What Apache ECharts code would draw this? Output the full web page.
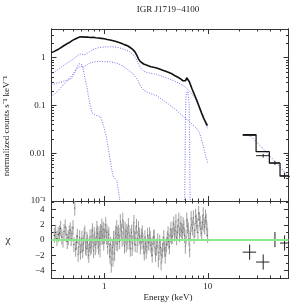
<!DOCTYPE html>
<html><head><meta charset="utf-8">
<script src="https://cdn.jsdelivr.net/npm/echarts@6/dist/echarts.min.js"></script>
<style>html,body{margin:0;padding:0;background:#fff}#c{width:291px;height:305px}</style>
</head><body><div id="c"></div>
<script>
// ---------- text ----------
const chartTitle = 'IGR J1719\u22124100';
const yTitle = 'normalized counts s\u207B\u00B9 keV\u207B\u00B9';
const xTitle = 'Energy (keV)';
const chiTitle = '\u03C7';

// ---------- ticks ----------
const xMajor = [1, 10];
const xMajorLabels = ['1', '10'];
const xMinor = [0.4,0.5,0.6,0.7,0.8,0.9,2,3,4,5,6,7,8,9,20,30,40,50];
const yMajor = [1, 0.1, 0.01, 0.001];
const yMajorLabels = ['1', '0.1', '0.01', '10\u207B\u00B3'];
const yMinor = [0.002,0.003,0.004,0.005,0.006,0.007,0.008,0.009,0.02,0.03,0.04,0.05,0.06,0.07,0.08,0.09,0.2,0.3,0.4,0.5,0.6,0.7,0.8,0.9,2,3,4];
const chiMajor = [-4, -2, 0, 2, 4];
const chiMajorLabels = ['\u22124', '\u22122', '0', '2', '4'];
const chiMinor = [-5, -3, -1, 1, 3, 5];

// ---------- soft X-ray data spectrum ----------
const xmmE = [0.31,0.33,0.35,0.37,0.40,0.43,0.46,0.49,0.52,0.55,0.58,0.61,0.65,0.69,0.73,0.78,0.83,0.88,0.94,1.00,1.07,1.14,1.22,1.30,1.39,1.48,1.58,1.68,1.78,1.88,1.98,2.06,2.14,2.22,2.30,2.40,2.52,2.66,2.82,3.00,3.20,3.42,3.66,3.92,4.20,4.50,4.82,5.15,5.45,5.75,5.95,6.10,6.25,6.40,6.52,6.65,6.80,7.00,7.25,7.50,7.80,8.10,8.45,8.80,9.20,9.60,9.90];
const xmmF = [1.28,1.36,1.45,1.55,1.74,1.92,2.08,2.28,2.45,2.60,2.72,2.76,2.70,2.72,2.66,2.68,2.62,2.60,2.55,2.50,2.42,2.36,2.28,2.18,2.08,1.98,1.86,1.78,1.64,1.50,1.33,1.14,0.95,0.84,0.78,0.74,0.71,0.68,0.65,0.63,0.61,0.58,0.55,0.52,0.49,0.46,0.42,0.39,0.36,0.33,0.31,0.33,0.38,0.41,0.37,0.31,0.27,0.23,0.19,0.16,0.13,0.105,0.082,0.065,0.052,0.043,0.038];

// ---------- model components ----------
const compAE = [0.31,0.34,0.37,0.41,0.45,0.49,0.53,0.57,0.60,0.63,0.66,0.70,0.75,0.81,0.88,0.96,1.05,1.15,1.26,1.38,1.50,1.62,1.75,1.88,2.00,2.12,2.25,2.40,2.60,2.85,3.20,3.60,4.10,4.70,5.30,5.90,6.50,7.10,7.70,8.30,8.90,9.50,10.0];
const compAF = [0.44,0.52,0.60,0.70,0.80,0.90,1.03,1.17,1.20,1.15,1.17,1.28,1.42,1.54,1.62,1.67,1.69,1.70,1.68,1.62,1.55,1.45,1.35,1.18,1.00,0.78,0.60,0.52,0.49,0.47,0.45,0.41,0.37,0.33,0.29,0.255,0.21,0.17,0.125,0.09,0.062,0.042,0.032];
const compBE = [0.31,0.34,0.37,0.41,0.45,0.49,0.53,0.57,0.60,0.63,0.66,0.70,0.75,0.81,0.88,0.96,1.05,1.15,1.26,1.38,1.50,1.62,1.75,1.88,2.00,2.12,2.25,2.40,2.60,2.85,3.20,3.60,4.10,4.70,5.30,5.90,6.50,7.10,7.70,8.30,8.90,9.50,10.0];
const compBF = [0.154,0.18,0.22,0.28,0.35,0.43,0.55,0.64,0.66,0.64,0.68,0.74,0.79,0.82,0.83,0.83,0.83,0.82,0.79,0.74,0.68,0.60,0.53,0.47,0.40,0.33,0.25,0.21,0.19,0.175,0.16,0.135,0.11,0.088,0.07,0.057,0.048,0.040,0.034,0.027,0.016,0.009,0.0062];
const compCE = [0.31,0.34,0.38,0.42,0.46,0.49,0.51,0.53,0.55,0.57,0.59,0.61,0.63,0.65,0.68,0.71,0.74,0.77,0.80,0.84,0.88,0.92,0.96,1.00,1.05,1.10,1.15,1.20,1.24,1.28,1.32,1.36,1.40,1.45];
const compCF = [0.27,0.29,0.31,0.33,0.35,0.38,0.45,0.55,0.65,0.75,0.80,0.72,0.55,0.38,0.25,0.14,0.09,0.068,0.063,0.062,0.061,0.058,0.045,0.033,0.022,0.012,0.0065,0.0038,0.0031,0.0029,0.0027,0.0018,0.0012,0.0007];
const feLineE = [5.95,6.02,6.07,6.12,6.20,6.40,6.60,6.66,6.71,6.78];
const feLineF = [0.0004,0.004,0.04,0.12,0.18,0.2,0.11,0.02,0.003,0.0004];

// ---------- hard X-ray data ----------
const hxLo = [21.7, 29.2, 39.2, 49.7];
const hxHi = [29.2, 39.2, 49.7, 62.0];
const hxE = [25.3, 34.2, 44.4, 55.0];
const hxF = [0.0236, 0.0089, 0.0063, 0.0034];
const hxErr = [0.0008, 0.0008, 0.0006, 0.0005];
const hxModelStep = [0.0245, 0.0108, 0.0062, 0.0033];
const hxCompE = [25.0, 35.0, 45.0, 60.0];
const hxCompF = [0.0245, 0.0118, 0.0065, 0.0033];
const hxChi = [-1.6, -2.9, 0.05, -0.4];

// ---------- residuals (chi) ----------
const resE = [0.33,0.34,0.35,0.36,0.37,0.38,0.39,0.40,0.41,0.42,0.43,0.44,0.45,0.46,0.47,0.48,0.49,0.50,0.51,0.52,0.53,0.54,0.55,0.56,0.57,0.58,0.59,0.60,0.61,0.62,0.63,0.64,0.65,0.66,0.67,0.68,0.69,0.70,0.71,0.72,0.73,0.74,0.75,0.76,0.77,0.78,0.79,0.80,0.81,0.82,0.83,0.84,0.85,0.86,0.87,0.88,0.89,0.90,0.91,0.92,0.93,0.94,0.95,0.96,0.97,0.98,0.99,1.005,1.02,1.035,1.05,1.065,1.08,1.095,1.11,1.125,1.14,1.155,1.17,1.185,1.20,1.215,1.23,1.245,1.26,1.275,1.29,1.305,1.32,1.335,1.35,1.37,1.39,1.41,1.43,1.45,1.47,1.49,1.51,1.53,1.55,1.57,1.59,1.61,1.63,1.65,1.67,1.69,1.71,1.735,1.76,1.785,1.81,1.835,1.86,1.885,1.91,1.935,1.96,1.99,2.02,2.05,2.08,2.11,2.14,2.17,2.20,2.23,2.26,2.295,2.33,2.365,2.40,2.435,2.47,2.505,2.54,2.58,2.62,2.66,2.70,2.74,2.78,2.82,2.86,2.905,2.95,2.995,3.04,3.085,3.13,3.18,3.23,3.28,3.33,3.38,3.43,3.485,3.54,3.595,3.65,3.705,3.76,3.82,3.88,3.94,4.00,4.065,4.13,4.195,4.26,4.33,4.40,4.47,4.54,4.615,4.69,4.765,4.84,4.92,5.00,5.08,5.16,5.245,5.33,5.415,5.50,5.59,5.68,5.775,5.87,5.965,6.06,6.16,6.26,6.365,6.47,6.575,6.68,6.79,6.90,7.015,7.13,7.25,7.37,7.495,7.62,7.75,7.88,8.015,8.15,8.29,8.43,8.575,8.72,8.87,9.02,9.175,9.33,9.49,9.65,9.80,9.95];
const resChi = [0.6,1.0,0.2,0.7,0.9,1.5,0.4,0.0,1.1,1.7,0.7,-0.2,0.3,0.9,1.3,0.2,0.8,1.6,-0.6,4.2,-1.2,-0.3,0.5,-1.9,-0.9,0.3,-1.6,-0.7,0.2,-1.4,-0.5,0.6,0.9,-0.9,-1.1,0.1,-0.3,-1.5,-2.0,-0.6,0.4,-1.0,-0.8,0.5,1.2,-0.3,-1.4,0.7,0.1,-1.0,-0.6,0.4,1.5,0.9,-0.2,-0.9,0.8,0.2,-1.3,1.1,0.3,0.9,1.8,0.4,0.6,1.4,-0.4,0.5,1.2,2.0,0.4,1.0,-0.9,0.3,0.7,-1.4,-2.2,-0.6,-3.3,-1.7,-1.0,-2.5,0.2,-0.8,-1.8,0.3,0.9,-0.4,1.6,0.7,-0.5,1.0,0.6,-0.2,2.4,1.3,1.1,0.1,2.6,1.6,0.3,-0.8,1.4,0.5,-0.6,1.1,0.8,-0.3,1.9,0.9,-0.2,-1.2,0.5,1.0,-1.1,-0.4,1.2,2.3,0.2,-0.6,0.9,1.8,-0.7,0.2,1.5,0.7,0.4,-0.9,-0.3,0.5,0.9,-0.2,-0.9,-1.7,0.3,-0.5,-1.5,-0.9,0.6,-0.3,-0.4,0.7,0.2,-0.7,-1.2,-2.0,-0.5,0.3,0.4,-0.9,-1.9,-1.1,-0.8,-0.1,-2.6,-1.6,-0.3,-1.0,-3.0,-2.0,-1.4,-0.5,0.3,-1.2,-2.1,-1.0,-0.6,0.2,0.8,-0.2,-0.9,0.6,1.4,0.4,0.5,1.5,2.1,0.8,1.2,2.4,0.3,1.0,1.8,2.6,0.7,1.4,2.2,1.2,1.0,2.0,1.6,0.6,-0.8,0.4,2.6,1.8,1.3,0.2,-1.3,0.8,2.8,2.0,1.6,2.9,0.5,1.3,3.1,2.4,1.9,1.0,3.5,2.7,2.2,1.5,0.9,2.3,3.3,2.0,1.7,3.0,2.5,1.4,0.6];

// ---------- build ----------
const FONT = "'Liberation Serif','Times New Roman',serif";
const FRAME = '#333';
const X_MIN = 0.31, X_MAX = 60;

function pick(vals, labels, v) {
  let best = 0, bd = Infinity;
  vals.forEach((t, i) => { const d = Math.abs(Math.log10(Math.abs(t) + 1e-9) - Math.log10(Math.abs(v) + 1e-9)) + Math.abs(t - v); if (d < bd) { bd = d; best = i; } });
  return labels[best];
}
function xAx(grid, pos, ticks, len, labels) {
  return {
    type: 'log', logBase: 10, gridIndex: grid, position: pos, min: X_MIN, max: X_MAX,
    axisLine: { show: true, onZero: false, lineStyle: { color: FRAME, width: 1 } },
    axisTick: { show: true, inside: true, length: len, customValues: ticks, lineStyle: { color: FRAME, width: 1 } },
    axisLabel: labels ? { show: true, customValues: xMajor, margin: 4, color: '#222', fontFamily: FONT, fontSize: 9,
      formatter: v => pick(xMajor, xMajorLabels, v) } : { show: false },
    splitLine: { show: false }, minorTick: { show: false }
  };
}
function yLog(pos, ticks, len, labels) {
  return {
    type: 'log', logBase: 10, gridIndex: 0, position: pos, min: 0.001, max: 4,
    axisLine: { show: true, onZero: false, lineStyle: { color: FRAME, width: 1 } },
    axisTick: { show: true, inside: true, length: len, customValues: ticks, lineStyle: { color: FRAME, width: 1 } },
    axisLabel: labels ? { show: true, customValues: yMajor, margin: 6, color: '#222', fontFamily: FONT, fontSize: 9,
      formatter: v => pick(yMajor, yMajorLabels, v) } : { show: false },
    splitLine: { show: false }, minorTick: { show: false }
  };
}
function yChi(pos, ticks, len, labels) {
  return {
    type: 'value', gridIndex: 1, position: pos, min: -5, max: 5.13,
    axisLine: { show: true, onZero: false, lineStyle: { color: FRAME, width: 1 } },
    axisTick: { show: true, inside: true, length: len, customValues: ticks, lineStyle: { color: FRAME, width: 1 } },
    axisLabel: labels ? { show: true, customValues: chiMajor, margin: 7, color: '#222', fontFamily: FONT, fontSize: 9,
      formatter: v => chiMajorLabels[chiMajor.indexOf(Math.round(v))] } : { show: false },
    splitLine: { show: false }, minorTick: { show: false }
  };
}

const xAxes = [
  xAx(0, 'bottom', xMajor, 5, false), xAx(0, 'bottom', xMinor, 2.5, false),
  xAx(0, 'top', xMajor, 5, false), xAx(0, 'top', xMinor, 2.5, false),
  xAx(1, 'bottom', xMajor, 5, true), xAx(1, 'bottom', xMinor, 2.5, false),
  xAx(1, 'top', xMajor, 5, false), xAx(1, 'top', xMinor, 2.5, false)
];
const yAxes = [
  yLog('left', yMajor, 5, true), yLog('left', yMinor, 2.5, false),
  yLog('right', yMajor, 5, false), yLog('right', yMinor, 2.5, false),
  yChi('left', chiMajor, 4.5, true), yChi('left', chiMinor, 2.5, false),
  yChi('right', chiMajor, 4.5, false), yChi('right', chiMinor, 2.5, false)
];

const zip = (a, b) => a.map((v, i) => [v, b[i]]);
const dotted = { type: [1, 1.5], width: 1, color: '#6f6ff2' };
function modelLine(E, F) {
  return { type: 'line', xAxisIndex: 0, yAxisIndex: 0, data: zip(E, F), symbol: 'none', clip: true,
    lineStyle: dotted, silent: true, z: 2 };
}

function crossRender(barColor, binColor) {
  return function (params, api) {
    const x = api.value(0), y = api.value(1);
    const p = api.coord([x, y]);
    const pl = api.coord([api.value(2), y]);
    const ph = api.coord([api.value(3), y]);
    const pyl = api.coord([x, api.value(4)]);
    const pyh = api.coord([x, api.value(5)]);
    return { type: 'group', children: [
      { type: 'line', shape: { x1: pyl[0], y1: pyl[1], x2: pyh[0], y2: pyh[1] }, style: { stroke: barColor, lineWidth: 1 } },
      { type: 'line', shape: { x1: pl[0], y1: p[1], x2: ph[0], y2: p[1] }, style: { stroke: binColor, lineWidth: 1 } }
    ]};
  };
}

const resData = resE.map((e, i) => {
  const lo = i > 0 ? Math.sqrt(resE[i - 1] * e) : e * Math.sqrt(e / resE[i + 1]);
  const hi = i < resE.length - 1 ? Math.sqrt(resE[i + 1] * e) : e * Math.sqrt(e / resE[i - 1]);
  return [e, resChi[i], lo, hi, resChi[i] - 1, resChi[i] + 1];
});
const hxData = hxE.map((e, i) => [e, hxF[i], hxLo[i], hxHi[i], hxF[i] - hxErr[i], hxF[i] + hxErr[i]]);
const hxResData = hxE.map((e, i) => [e, hxChi[i], hxLo[i], hxHi[i], hxChi[i] - 1, hxChi[i] + 1]);
const hxStep = [];
hxLo.forEach((lo, i) => { hxStep.push([lo, hxModelStep[i]]); hxStep.push([hxHi[i], hxModelStep[i]]); });

const option = {
  animation: false,
  backgroundColor: '#fff',
  grid: [
    { left: 51.5, top: 29, width: 237, height: 172, containLabel: false, outerBoundsMode: 'none' },
    { left: 51.5, top: 201, width: 237, height: 77, containLabel: false, outerBoundsMode: 'none' }
  ],
  xAxis: xAxes,
  yAxis: yAxes,
  graphic: [
    { type: 'text', x: 168, y: 10, style: { text: chartTitle, fontFamily: FONT, fontSize: 9, fill: '#222', align: 'center', verticalAlign: 'middle' } },
    { type: 'text', x: 168, y: 298, style: { text: xTitle, fontFamily: FONT, fontSize: 9, fill: '#222', align: 'center', verticalAlign: 'middle' } },
    { type: 'text', x: 7, y: 126, rotation: Math.PI / 2, style: { text: yTitle, fontFamily: FONT, fontSize: 9, fill: '#222', align: 'center', verticalAlign: 'middle' } },
    { type: 'text', x: 8, y: 240, style: { text: chiTitle, fontFamily: FONT, fontSize: 11, fill: '#222', align: 'center', verticalAlign: 'middle' } }
  ],
  series: [
    modelLine(compCE, compCF),
    modelLine(compBE, compBF),
    modelLine(compAE, compAF),
    modelLine(feLineE, feLineF),
    modelLine(hxCompE, hxCompF),
    { type: 'line', xAxisIndex: 0, yAxisIndex: 0, data: zip(xmmE, xmmF), symbol: 'none', clip: true,
      lineStyle: { color: '#111', width: 1.6 }, z: 3 },
    { type: 'line', xAxisIndex: 0, yAxisIndex: 0, data: hxStep, symbol: 'none', clip: true,
      lineStyle: { color: '#111', width: 1.2 }, z: 3 },
    { type: 'custom', xAxisIndex: 0, yAxisIndex: 0, data: hxData, clip: true, renderItem: crossRender('#222', '#222'), z: 4 },
    { type: 'custom', xAxisIndex: 4, yAxisIndex: 4, data: resData, clip: true, renderItem: crossRender('#a0a0a0', '#333'), z: 2 },
    { type: 'custom', xAxisIndex: 4, yAxisIndex: 4, data: hxResData, clip: true, renderItem: crossRender('#222', '#222'), z: 4 },
    { type: 'line', xAxisIndex: 4, yAxisIndex: 4, data: zip(resE, resChi), symbol: 'none', silent: true,
      lineStyle: { opacity: 0 }, z: 5,
      markLine: { silent: true, symbol: 'none', label: { show: false }, animation: false,
        lineStyle: { color: '#86ec86', width: 2, type: 'solid' }, data: [{ yAxis: 0 }] } }
  ]
};

const chart = echarts.init(document.getElementById('c'), null, { renderer: 'canvas' });
chart.setOption(option);
</script>
</body></html>
